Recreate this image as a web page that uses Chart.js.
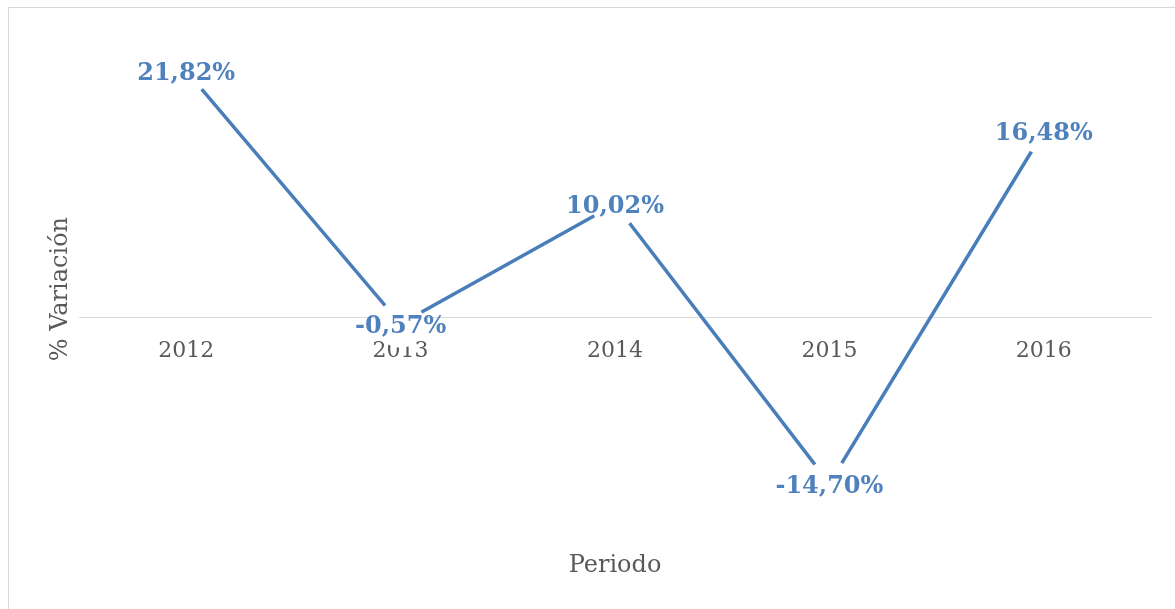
<!DOCTYPE html>
<html>
<head>
<meta charset="utf-8">
<script src="https://cdn.jsdelivr.net/npm/chart.js@4/dist/chart.umd.min.js"></script>
<style>
    body { margin: 0; background: #fff; overflow: hidden; }
    #frame {
        position: absolute; left: 8px; top: 7px; width: 1200px; height: 640px;
        border-left: 1px solid #d9d9d9; border-top: 1px solid #d9d9d9;
    }
    #wrap { position: absolute; left: 9px; top: 8px; width: 1166px; height: 601px; }
</style>
</head>
<body>
<div id="frame"></div>
<div id="wrap"><canvas id="chart"></canvas></div>
<script>
const years = ['2012', '2013', '2014', '2015', '2016'];
const variacion = [21.82, -0.57, 10.02, -14.70, 16.48];
const yMin = -20;
const yMax = 25;

const FONT = '"DejaVu Serif", "Liberation Serif", serif';

// etiquetas de datos sobre cada punto (formato con coma decimal)
const valueLabels = {
    id: 'valueLabels',
    afterDatasetsDraw(chart) {
        const ctx = chart.ctx;
        const meta = chart.getDatasetMeta(0);
        ctx.save();
        ctx.font = 'bold 24px ' + FONT;
        ctx.fillStyle = '#4F81BD';
        ctx.textAlign = 'center';
        ctx.textBaseline = 'middle';
        meta.data.forEach((pt, i) => {
            const txt = variacion[i].toFixed(2).replace('.', ',') + '%';
            ctx.fillText(txt, pt.x, pt.y + 3);
        });
        ctx.restore();
    }
};

new Chart(document.getElementById('chart').getContext('2d'), {
    type: 'line',
    data: {
        labels: years,
        datasets: [{
            data: variacion,
            borderColor: '#4A7EBB',
            borderWidth: 3.5,
            tension: 0,
            pointRadius: 24,
            pointHoverRadius: 24,
            pointBackgroundColor: '#ffffff',
            pointBorderWidth: 0,
            pointBorderColor: 'rgba(0,0,0,0)'
        }]
    },
    options: {
        responsive: true,
        maintainAspectRatio: false,
        animation: false,
        layout: { padding: { top: 27, right: 18, left: 0, bottom: 0 } },
        scales: {
            x: {
                position: { y: 0 },
                offset: true,
                grid: { display: false },
                border: { display: true, color: '#d9d9d9', width: 1 },
                ticks: { color: '#595959', font: { family: FONT, size: 22 }, padding: 13 }
            },
            y: {
                min: yMin,
                max: yMax,
                grid: { display: false },
                border: { display: false },
                ticks: { display: false },
                afterFit(scale) { scale.width = 70; },
                title: {
                    display: true,
                    text: '% Variación',
                    color: '#595959',
                    font: { family: FONT, size: 24 },
                    padding: { top: 37, bottom: 0 }
                }
            }
        },
        plugins: {
            legend: { display: false },
            tooltip: { enabled: false },
            title: {
                display: true,
                position: 'bottom',
                fullSize: false,
                text: 'Periodo',
                color: '#595959',
                font: { family: FONT, size: 24, weight: 'normal' },
                padding: { top: 8, bottom: 29 }
            }
        }
    },
    plugins: [valueLabels]
});
</script>
</body>
</html>
